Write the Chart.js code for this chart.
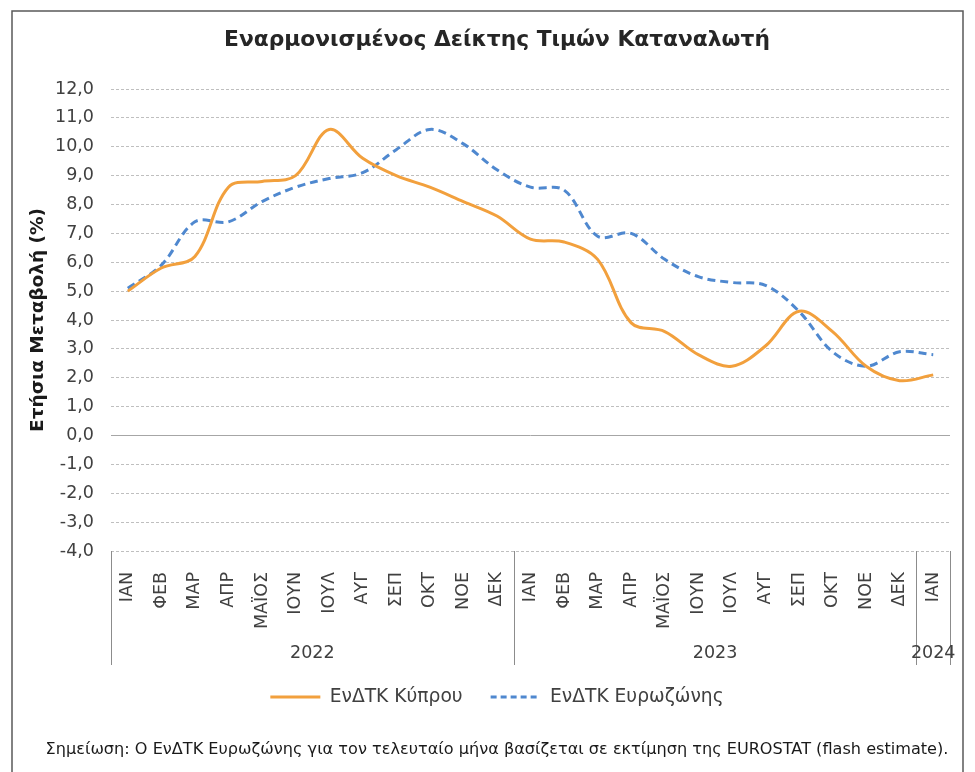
<!DOCTYPE html>
<html>
<head>
<meta charset="utf-8">
<script src="https://cdn.jsdelivr.net/npm/chart.js@4.4.1/dist/chart.umd.min.js"></script>
<style>
html,body{margin:0;padding:0;background:#fff;}
#wrap{width:975px;height:772px;}
</style>
</head>
<body>
<div id="wrap"><canvas id="c" width="975" height="772"></canvas></div>
<script>
// ---------- data ----------
const chartTitle = 'Εναρμονισμένος Δείκτης Τιμών Καταναλωτή';
const yAxisTitle = 'Ετήσια Μεταβολή (%)';
const months = ['ΙΑΝ','ΦΕΒ','ΜΑΡ','ΑΠΡ','ΜΑΪΟΣ','ΙΟΥΝ','ΙΟΥΛ','ΑΥΓ','ΣΕΠ','ΟΚΤ','ΝΟΕ','ΔΕΚ',
                'ΙΑΝ','ΦΕΒ','ΜΑΡ','ΑΠΡ','ΜΑΪΟΣ','ΙΟΥΝ','ΙΟΥΛ','ΑΥΓ','ΣΕΠ','ΟΚΤ','ΝΟΕ','ΔΕΚ',
                'ΙΑΝ'];
const years = ['2022', '2023', '2024'];
const yearFirstIndex = [0, 12, 24];
const yearLastIndex = [11, 23, 24];
const seriesNames = ['ΕνΔΤΚ Κύπρου', 'ΕνΔΤΚ Ευρωζώνης'];
const cyprus = [5.0, 5.8, 6.2, 8.6, 8.8, 9.0, 10.6, 9.6, 9.0, 8.6, 8.1, 7.6,
                6.8, 6.7, 6.1, 3.9, 3.6, 2.8, 2.4, 3.1, 4.3, 3.6, 2.4, 1.9,
                2.1];
const eurozone = [5.1, 5.9, 7.4, 7.4, 8.1, 8.6, 8.9, 9.1, 9.9, 10.6, 10.1, 9.2,
                  8.6, 8.5, 6.9, 7.0, 6.1, 5.5, 5.3, 5.2, 4.3, 2.9, 2.4, 2.9,
                  2.8];
const yMin = -4, yMax = 12, yStep = 1;
const noteText = 'Σημείωση: Ο ΕνΔΤΚ Ευρωζώνης για τον τελευταίο μήνα βασίζεται σε εκτίμηση της EUROSTAT (flash estimate).';

// ---------- styling / layout ----------
const FAM = '"DejaVu Sans", Verdana, sans-serif';
const mctx = document.createElement('canvas').getContext('2d');
function fit(text, weight, target) {
  mctx.font = weight + ' 100px ' + FAM;
  return +(100 * target / mctx.measureText(text).width).toFixed(2);
}
const titleSize = fit(chartTitle, 'bold', 546);
const yTitleSize = fit(yAxisTitle, 'bold', 224);
const tickSize = fit('12,0', 'normal', 39);
const legendSize = fit(seriesNames[0], 'normal', 133);
const noteSize = fit(noteText, 'normal', 903);

const PAD_L = 44, PAD_R = 25, PAD_T = 12;
const AREA_L = 111, AREA_T = 89, AREA_B = 551;
const TITLE_CY = 40, LEGEND_CY = 697, NOTE_CY = 750;
const LEG_PAD = 28;
const titleLH = titleSize * 1.2;
const yTitleLH = yTitleSize * 1.2;
const noteLH = noteSize * 1.2;
const legendTop = LEGEND_CY - LEG_PAD - legendSize / 2;
const legendBottom = legendTop + legendSize + LEG_PAD + 10;
const xAxisH = legendTop - AREA_B;
const notePadTop = NOTE_CY - legendBottom - noteLH / 2;
const padBottom = 772 - (NOTE_CY + noteLH / 2);

const TEXT = '#404040';

const decor = {
  id: 'decor',
  beforeDraw(chart) {
    const c = chart.ctx;
    c.save();
    c.fillStyle = '#fff';
    c.fillRect(0, 0, chart.width, chart.height);
    c.strokeStyle = '#595959';
    c.lineWidth = 1.5;
    c.beginPath();
    c.moveTo(12, 772); c.lineTo(12, 11); c.lineTo(963, 11); c.lineTo(963, 772);
    c.stroke();
    c.restore();
  },
  afterDraw(chart) {
    const c = chart.ctx, xs = chart.scales.x, area = chart.chartArea;
    const edge = (i) => i < 0 ? xs.left : (i >= months.length - 1 ? xs.right :
      (xs.getPixelForValue(i) + xs.getPixelForValue(i + 1)) / 2);
    c.save();
    c.strokeStyle = '#8c8c8c';
    c.lineWidth = 1;
    const bounds = [];
    years.forEach((y, k) => {
      const a = edge(yearFirstIndex[k] - 1), b = edge(yearLastIndex[k]);
      bounds.push(a, b);
    });
    [...new Set(bounds.map(v => Math.round(v)))].forEach(x => {
      c.beginPath();
      c.moveTo(x + 0.5, area.bottom);
      c.lineTo(x + 0.5, 665);
      c.stroke();
    });
    c.fillStyle = TEXT;
    c.font = tickSize + 'px ' + FAM;
    c.textAlign = 'center';
    c.textBaseline = 'middle';
    years.forEach((y, k) => {
      const a = edge(yearFirstIndex[k] - 1), b = edge(yearLastIndex[k]);
      c.fillText(y, (a + b) / 2, 653);
    });
    c.restore();
  }
};

new Chart(document.getElementById('c'), {
  type: 'line',
  data: {
    labels: months,
    datasets: [
      { label: seriesNames[0], data: cyprus, borderColor: '#F2A03D', backgroundColor: '#F2A03D',
        borderWidth: 3, pointRadius: 0, tension: 0.35, fill: false },
      { label: seriesNames[1], data: eurozone, borderColor: '#4F88CF', backgroundColor: '#4F88CF',
        borderWidth: 3, borderDash: [8, 5], pointRadius: 0, tension: 0.35, fill: false }
    ]
  },
  options: {
    responsive: false,
    animation: false,
    devicePixelRatio: 1,
    layout: { padding: { left: PAD_L, right: PAD_R, top: PAD_T, bottom: padBottom } },
    plugins: {
      title: {
        display: true, text: chartTitle, color: '#262626',
        font: { family: FAM, size: titleSize, weight: 'bold' },
        padding: { top: TITLE_CY - PAD_T - titleLH / 2, bottom: AREA_T - TITLE_CY - titleLH / 2 }
      },
      subtitle: {
        display: true, text: noteText, position: 'bottom', color: '#1a1a1a',
        font: { family: FAM, size: noteSize, weight: 'normal' },
        padding: { top: notePadTop, bottom: 0 }
      },
      legend: {
        position: 'bottom',
        labels: {
          usePointStyle: true, pointStyle: 'line', pointStyleWidth: 50,
          padding: LEG_PAD, color: TEXT,
          font: { family: FAM, size: legendSize },
          generateLabels: (chart) => {
            const items = Chart.defaults.plugins.legend.labels.generateLabels(chart);
            items.forEach((it) => {
              const ds = chart.data.datasets[it.datasetIndex];
              it.lineDash = ds.borderDash ? [6, 4] : [];
              it.lineWidth = ds.borderWidth;
              it.strokeStyle = ds.borderColor;
              it.fillStyle = ds.borderColor;
              it.pointStyle = 'line';
            });
            return items;
          }
        }
      },
      tooltip: { enabled: false }
    },
    scales: {
      x: {
        type: 'category',
        offset: true,
        grid: { display: false },
        border: { display: false },
        ticks: { autoSkip: false, minRotation: 90, maxRotation: 90, padding: 13,
                 color: TEXT, font: { family: FAM, size: tickSize } },
        afterFit: (s) => { s.height = xAxisH; }
      },
      y: {
        min: yMin, max: yMax,
        grid: {
          drawTicks: false,
          color: (ctx) => ctx.tick && ctx.tick.value === 0 ? '#a6a6a6' : '#bfbfbf',
          lineWidth: 1
        },
        border: { display: false, dash: (ctx) => ctx.tick && ctx.tick.value === 0 ? [] : [3, 2] },
        ticks: { stepSize: yStep, padding: 17, color: TEXT,
                 font: { family: FAM, size: tickSize },
                 callback: (v) => Number(v).toFixed(1).replace('.', ',') },
        title: { display: true, text: yAxisTitle, color: '#1a1a1a',
                 font: { family: FAM, size: yTitleSize, weight: 'bold' },
                 padding: { top: 38 - PAD_L - yTitleLH / 2, bottom: 0 } },
        afterFit: (s) => { s.width = AREA_L - PAD_L; }
      }
    }
  },
  plugins: [decor]
});
</script>
</body>
</html>
